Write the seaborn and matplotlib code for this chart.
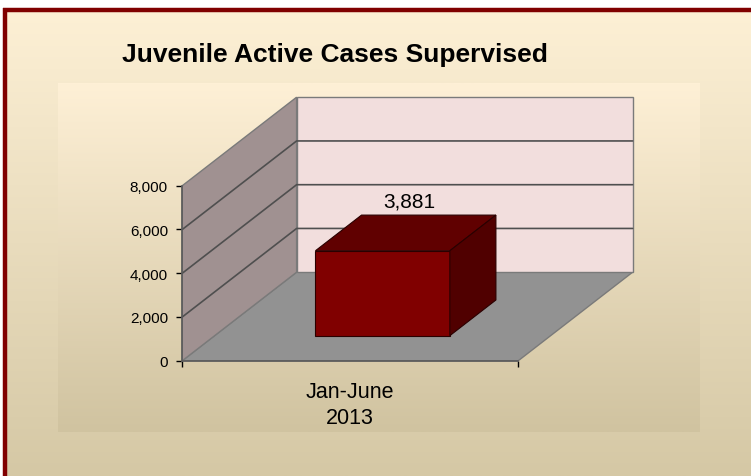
import numpy as np
import seaborn as sns
import matplotlib.pyplot as plt
import matplotlib.colors as mcolors
from matplotlib import transforms, font_manager
from matplotlib.patches import Polygon
from matplotlib.ticker import FuncFormatter

# data
periods = ["Jan-June\n2013"]
cases = [3881]
yticks = [0, 2000, 4000, 6000, 8000]
title = "Juvenile Active Cases Supervised"

W, H, DPI = 751, 477, 100

names = {f.name for f in font_manager.fontManager.ttflist}
FONT = 'Liberation Sans Narrow' if 'Liberation Sans Narrow' in names else 'Liberation Sans'

sns.set_style('white')
plt.rcParams['font.family'] = [FONT, 'DejaVu Sans']
plt.rcParams.update({'text.color': 'black', 'xtick.color': 'black',
                     'ytick.color': 'black'})

fig = plt.figure(figsize=(W / DPI, H / DPI), dpi=DPI, facecolor='white')


def vgrad(top, bottom, n=256):
    t = np.linspace(0, 1, n)[:, None]
    c0 = np.array(mcolors.to_rgb(top))
    c1 = np.array(mcolors.to_rgb(bottom))
    return (c0 * (1 - t) + c1 * t)[:, None, :]


# background panel (pixel coordinates)
bg = fig.add_axes([0, 0, 1, 1])
bg.imshow(vgrad('#fdf0d5', '#d5c8a5'), extent=(5, W, H, 11), aspect='auto',
          interpolation='bilinear')
bg.imshow(vgrad('#fef0d6', '#d0c3a0'), extent=(58, 700, 433, 84), aspect='auto',
          interpolation='bilinear')
bg.plot([5, 5], [9, H], color='#800000', lw=3.2, solid_capstyle='butt')
bg.plot([3, W], [11, 11], color='#800000', lw=3.2, solid_capstyle='butt')
bg.set_xlim(0, W)
bg.set_ylim(H, 0)
bg.axis('off')

# front plane of the 3d box
ax = fig.add_axes([182.3 / W, 1 - 361.7 / H, 336 / W, 175 / H])
ax.patch.set_alpha(0)

YMAX = yticks[-1]
DX = 114.3 / 336            # depth shift in category units
DY = 88.5 / 175 * YMAX      # depth shift in value units
D1, D2 = 0.283, 0.686       # bar depth span


def proj(x, y, d):
    return (x + d * DX, y + d * DY)


sns.barplot(x=periods, y=cases, color='#800000', saturation=1, width=0.4,
            edgecolor='#2a0000', linewidth=0.8, ax=ax)
bar = ax.patches[0]
bar.set_transform(transforms.Affine2D().translate(D1 * DX, D1 * DY) + ax.transData)
bar.set_clip_on(False)
bar.set_zorder(5)

XL, XR = -0.5, 0.5

walls = [
    ([proj(XL, 0, 0), proj(XR, 0, 0), proj(XR, 0, 1), proj(XL, 0, 1)], '#929292'),
    ([proj(XL, 0, 1), proj(XR, 0, 1), proj(XR, YMAX, 1), proj(XL, YMAX, 1)], '#f2dedd'),
    ([proj(XL, 0, 0), proj(XL, 0, 1), proj(XL, YMAX, 1), proj(XL, YMAX, 0)], '#a09191'),
]
for pts, c in walls:
    ax.add_patch(Polygon(pts, closed=True, facecolor=c, edgecolor='#7a7a7a',
                         lw=1.0, clip_on=False, zorder=1))

for t in yticks[1:-1]:
    a, b, c = proj(XL, t, 0), proj(XL, t, 1), proj(XR, t, 1)
    ax.plot([a[0], b[0], c[0]], [a[1], b[1], c[1]], color='#4f4f4f', lw=1.2,
            clip_on=False, zorder=2)

x0, w, h = bar.get_x(), bar.get_width(), bar.get_height()
top = [proj(x0, h, D1), proj(x0 + w, h, D1), proj(x0 + w, h, D2), proj(x0, h, D2)]
side = [proj(x0 + w, 0, D1), proj(x0 + w, h, D1), proj(x0 + w, h, D2), proj(x0 + w, 0, D2)]
ax.add_patch(Polygon(top, closed=True, facecolor='#600000', edgecolor='#2a0000',
                     lw=0.8, clip_on=False, zorder=5))
ax.add_patch(Polygon(side, closed=True, facecolor='#500000', edgecolor='#2a0000',
                     lw=0.8, clip_on=False, zorder=5))

ax.annotate(f'{h:,.0f}', xy=proj(x0 + w / 2, h, (D1 + D2) / 2), xytext=(4, 32),
            textcoords='offset pixels', ha='center', va='center', fontsize=15,
            annotation_clip=False, zorder=6)

ax.set_xlim(XL, XR)
ax.set_ylim(0, YMAX)
ax.set_xlabel('')
ax.set_ylabel('')
for s in ['top', 'right']:
    ax.spines[s].set_visible(False)
for s in ['left', 'bottom']:
    ax.spines[s].set_color('#5a5a5a')
    ax.spines[s].set_linewidth(1.2)
    ax.spines[s].set_zorder(3)

ax.set_yticks(yticks)
ax.yaxis.set_major_formatter(FuncFormatter(lambda v, p: f'{v:,.0f}'))
ax.tick_params(axis='y', left=True, length=4.3, width=1, color='black',
               direction='out', pad=6, labelsize=11)
ax.set_xticks([XL, XR], minor=True)
ax.tick_params(axis='x', which='major', bottom=True, length=0, pad=14.5, labelsize=15.5)
ax.tick_params(axis='x', which='minor', bottom=True, length=4.3, width=1, color='black',
               direction='out')
for lbl in ax.get_xticklabels():
    lbl.set_linespacing(1.3)

fig.text(122 / W, 1 - 55 / H, title, fontsize=19, fontweight='bold',
         ha='left', va='center')

fig.savefig('out.png', dpi=DPI)
